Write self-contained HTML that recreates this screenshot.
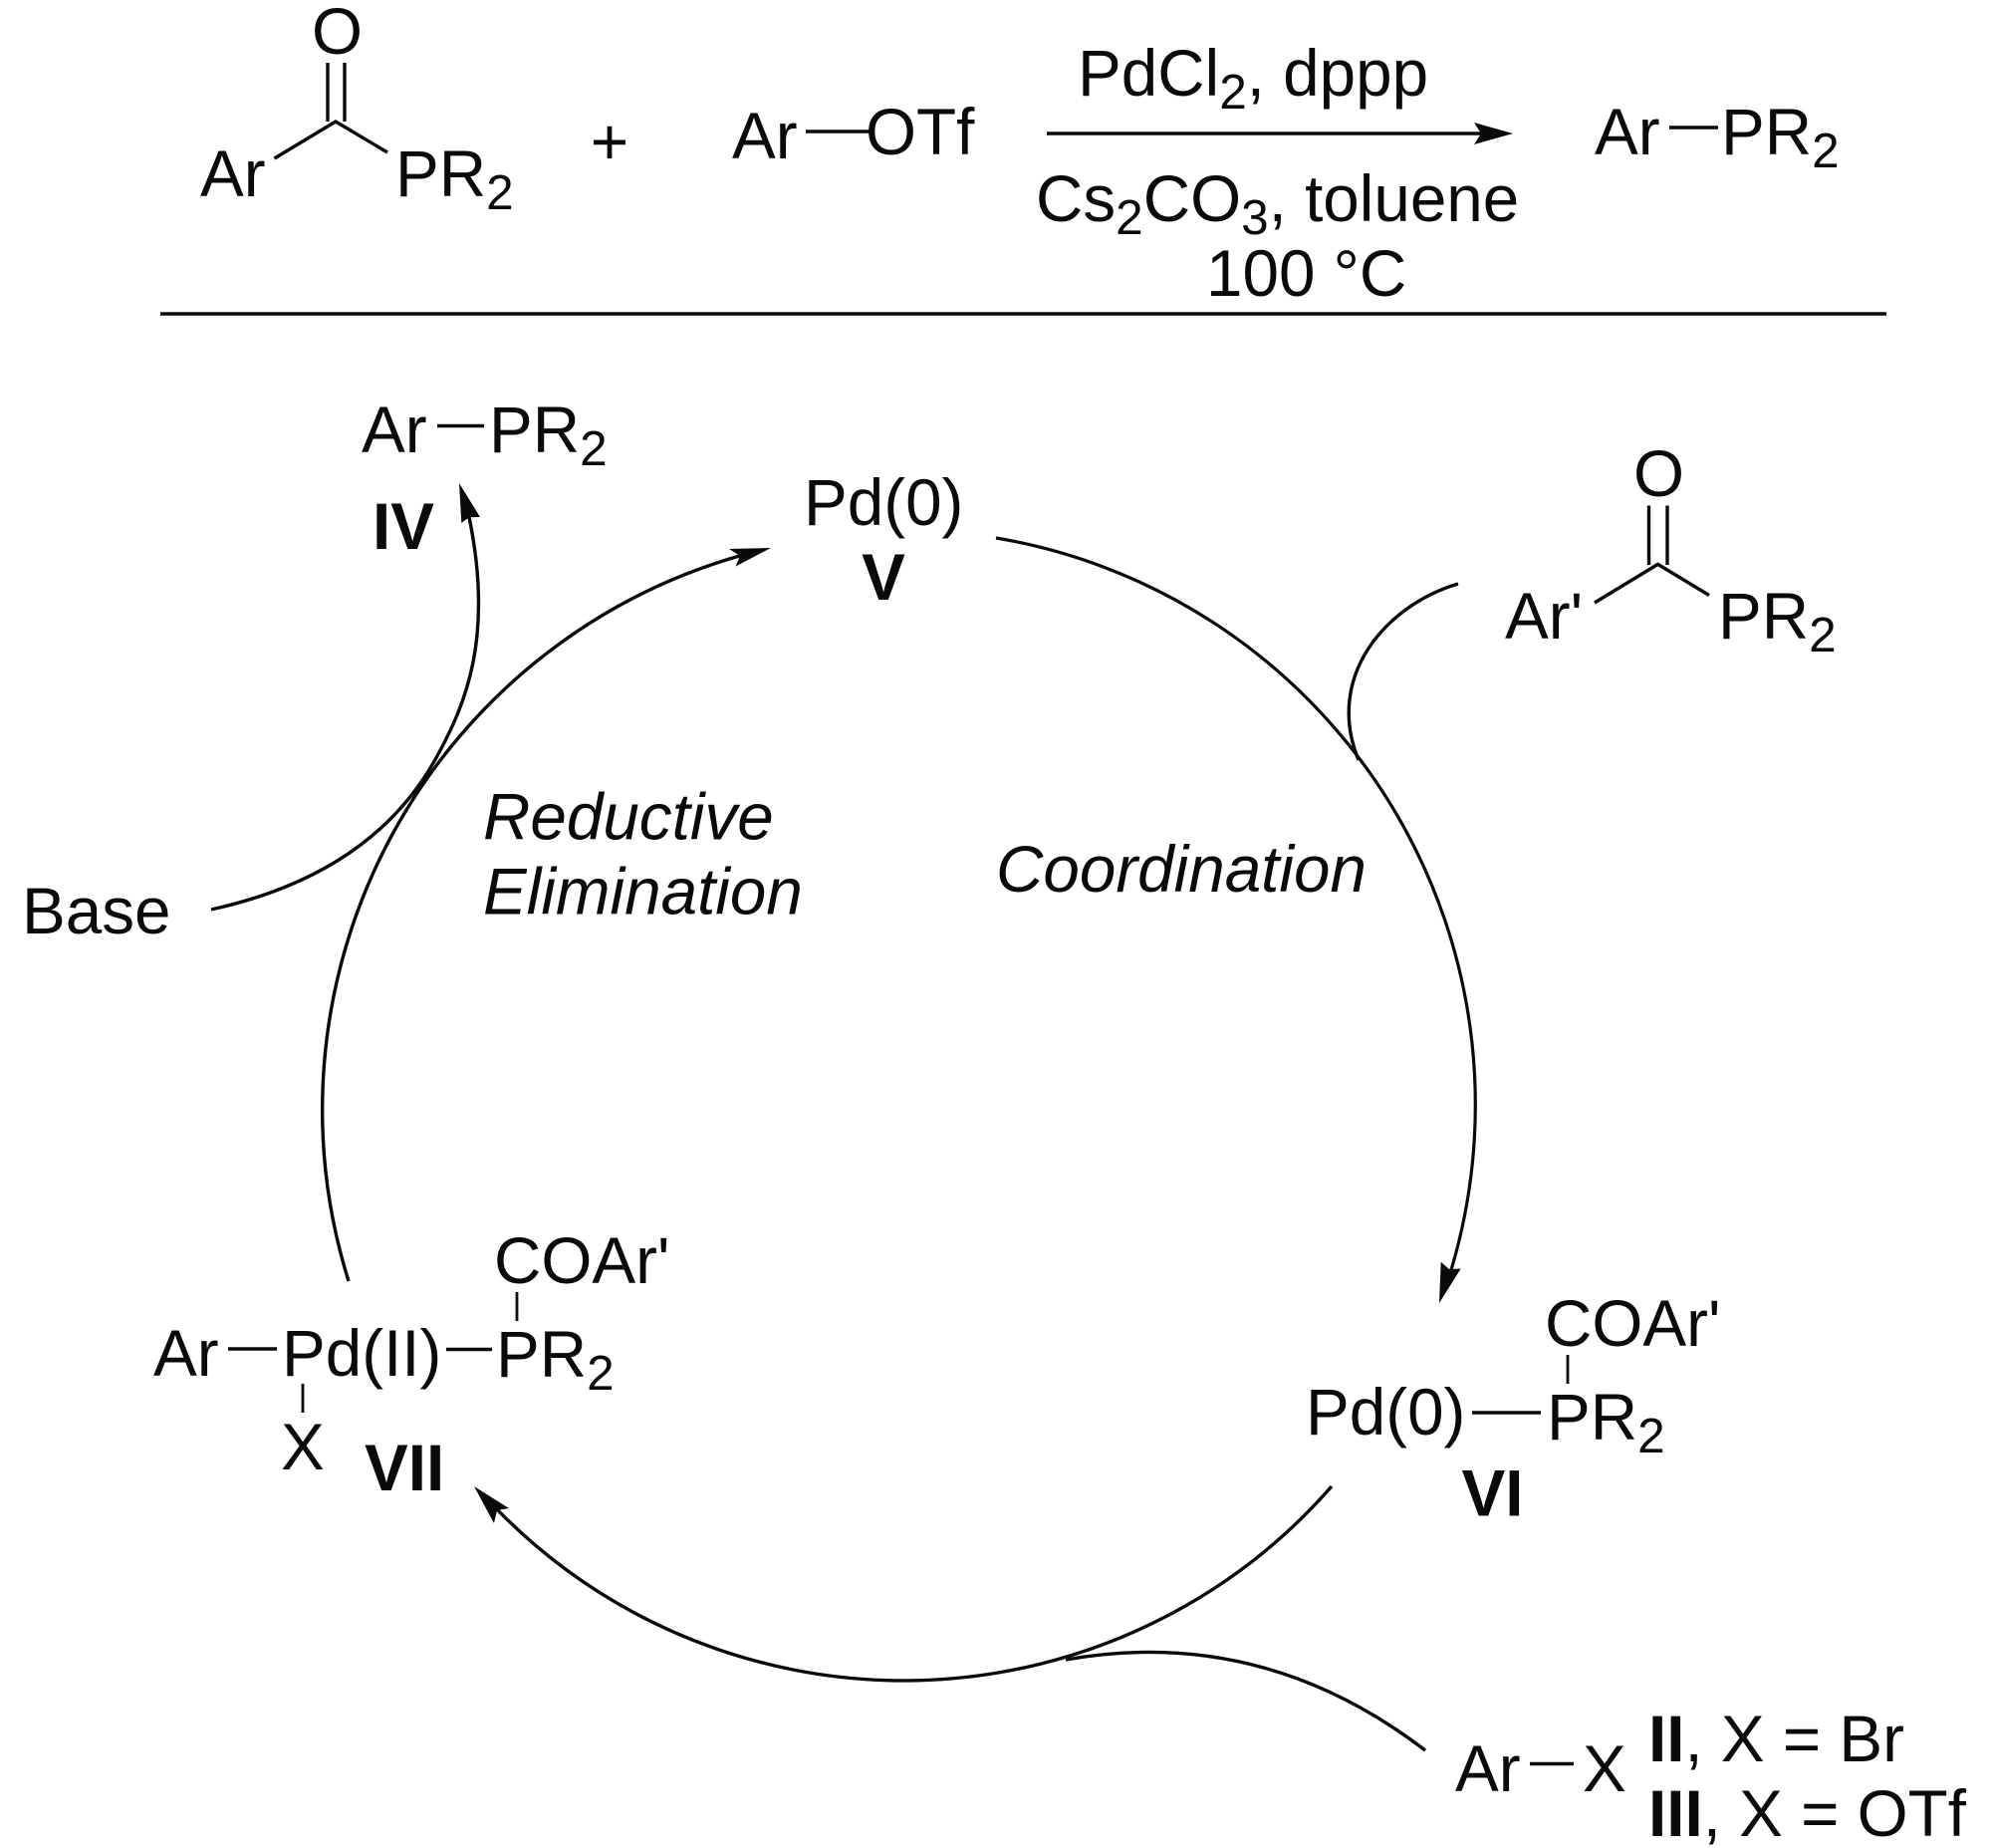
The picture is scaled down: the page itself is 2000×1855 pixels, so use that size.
<!DOCTYPE html>
<html>
<head>
<meta charset="utf-8">
<style>
html,body{margin:0;padding:0;background:#fff;}
svg{display:block;}
text{font-family:"Liberation Sans",Arial,sans-serif;font-size:65.6px;fill:#0a0a0a;}
.s{font-size:49.500px;}
.b{font-weight:bold;}
.i{font-style:italic;}
path,line{fill:none;stroke:#0a0a0a;stroke-width:3.4;}
.t{stroke-width:2.8;}
.h{fill:#0a0a0a;stroke:none;}
</style>
</head>
<body>
<svg width="2000" height="1855" viewBox="0 0 2000 1855" xmlns="http://www.w3.org/2000/svg">
<!-- top scheme -->
<text x="313" y="54">O</text>
<line x1="329" y1="63" x2="329" y2="122"/>
<line x1="346" y1="63" x2="346" y2="122"/>
<path d="M275.500 159 L337 122 L389 153"/>
<text x="201" y="197">Ar</text>
<text x="397" y="197">PR<tspan class="s" dy="13">2</tspan></text>
<text x="612" y="165" text-anchor="middle">+</text>
<text x="735" y="159">Ar</text>
<line x1="809" y1="132" x2="874" y2="132"/>
<text x="869" y="155">OTf</text>
<text x="1082" y="96">PdCl<tspan class="s" dy="13">2</tspan><tspan dy="-13">, dppp</tspan></text>
<line x1="1051" y1="134" x2="1490" y2="134"/>
<path class="h" d="M1519 134 L1480 123 L1487 134 L1480 145 Z"/>
<text x="1040" y="222">Cs<tspan class="s" dy="13">2</tspan><tspan dy="-13">CO</tspan><tspan class="s" dy="13">3</tspan><tspan dy="-13">, toluene</tspan></text>
<text x="1211" y="297">100 °C</text>
<text x="1601" y="155">Ar</text>
<line x1="1676" y1="128" x2="1725" y2="128"/>
<text x="1728" y="155">PR<tspan class="s" dy="13">2</tspan></text>
<line x1="161" y1="315" x2="1894" y2="315" style="stroke-width:3.6"/>
<!-- cycle arcs -->
<path d="M350 1286 A 578 578 0 0 1 746 557"/>
<path class="h" d="M774 550 L732 551 L743 558 L738.500 568.600 Z"/>
<path d="M1000 540 A 577 577 0 0 1 1456 1278" style="stroke-width:3.2"/>
<path class="h" d="M1445 1308 L1446.700 1266.700 L1455 1274 L1466.700 1273.500 Z"/>
<path d="M1337 1492 A 571 571 0 0 1 496 1512"/>
<path class="h" d="M476 1492 L511 1514 L499 1516 L496 1529 Z"/>
<!-- branches -->
<path d="M212 913 C 285 897 385 860 440 757 C 467 707 496 640 471 519"/>
<path class="h" d="M461 485 L463.300 525 L471 519.300 L482 519 Z"/>
<path d="M1464 586 C 1390 608 1330 680 1364 763"/>
<path d="M1070 1666 C 1200 1643 1320 1672 1431 1757"/>
<!-- IV -->
<text x="363" y="454">Ar</text>
<line x1="439" y1="427.500" x2="486" y2="427.500"/>
<text x="491" y="454">PR<tspan class="s" dy="13">2</tspan></text>
<text class="b" x="374" y="551">IV</text>
<!-- V -->
<text x="807" y="527">Pd(0)</text>
<text class="b" x="887" y="602" text-anchor="middle">V</text>
<!-- Ar' ketone -->
<text x="1640" y="498">O</text>
<line x1="1655.500" y1="507.500" x2="1655.500" y2="567"/>
<line x1="1674" y1="507.500" x2="1674" y2="567"/>
<path d="M1601 605 L1664.500 566.400 L1716 597.500"/>
<text x="1511" y="641">Ar'</text>
<text x="1725" y="641">PR<tspan class="s" dy="13">2</tspan></text>
<!-- labels -->
<text class="i" x="485" y="842.500">Reductive</text>
<text class="i" x="485" y="917.500">Elimination</text>
<text class="i" x="1000" y="895">Coordination</text>
<text x="22" y="937">Base</text>
<!-- VII -->
<text x="496" y="1288">COAr'</text>
<line class="t" x1="519" y1="1297" x2="519" y2="1326"/>
<text x="154" y="1381">Ar</text>
<line x1="229" y1="1354" x2="278" y2="1354"/>
<text x="283" y="1381">Pd(II)</text>
<line x1="448" y1="1354.500" x2="494" y2="1354.500"/>
<text x="498" y="1382">PR<tspan class="s" dy="13">2</tspan></text>
<line class="t" x1="304" y1="1389" x2="304" y2="1418"/>
<text x="282" y="1475">X</text>
<text class="b" x="366" y="1496">VII</text>
<!-- VI -->
<text x="1551" y="1351">COAr'</text>
<line class="t" x1="1574" y1="1360" x2="1574" y2="1389"/>
<text x="1311" y="1440">Pd(0)</text>
<line x1="1478" y1="1418" x2="1547" y2="1418"/>
<text x="1553" y="1445">PR<tspan class="s" dy="13">2</tspan></text>
<text class="b" x="1467.500" y="1521.500">VI</text>
<!-- ArX -->
<text x="1461" y="1798">Ar</text>
<line x1="1536" y1="1770.500" x2="1580" y2="1770.500"/>
<text x="1589" y="1798">X</text>
<text x="1655" y="1768"><tspan class="b">II</tspan>, X = Br</text>
<text x="1655" y="1843"><tspan class="b">III</tspan>, X = OTf</text>
</svg>
</body>
</html>
